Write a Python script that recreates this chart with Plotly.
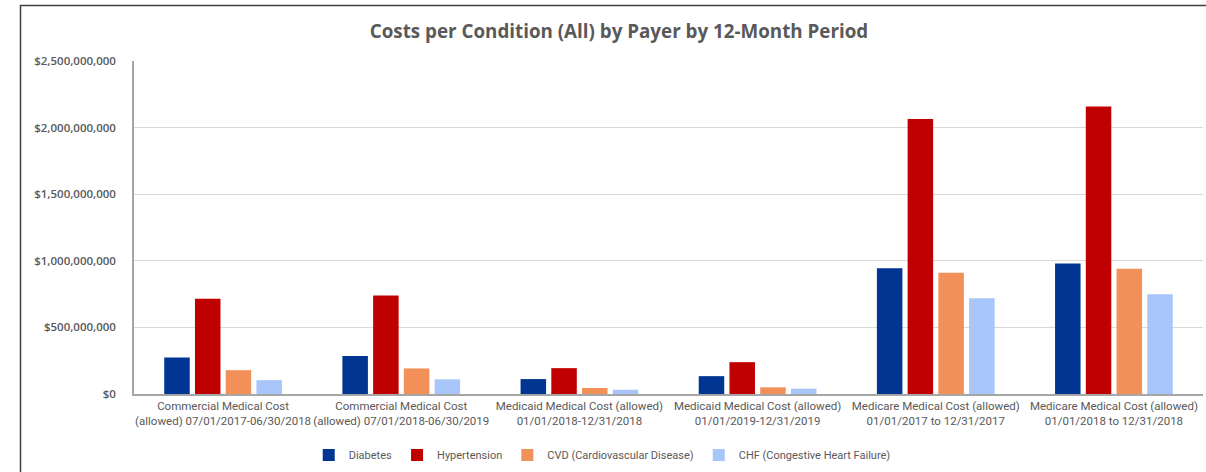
import plotly.graph_objects as go

categories = [
    "Commercial Medical Cost<br>(allowed) 07/01/2017-06/30/2018",
    "Commercial Medical Cost<br>(allowed) 07/01/2018-06/30/2019",
    "Medicaid Medical Cost (allowed)<br>01/01/2018-12/31/2018",
    "Medicaid Medical Cost (allowed)<br>01/01/2019-12/31/2019",
    "Medicare Medical Cost (allowed)<br>01/01/2017 to 12/31/2017",
    "Medicare Medical Cost (allowed)<br>01/01/2018 to 12/31/2018",
]
diabetes = [274e6, 286e6, 112e6, 134e6, 945e6, 980e6]
hypertension = [716e6, 739e6, 194e6, 239e6, 2065e6, 2159e6]
cvd = [179e6, 192e6, 45e6, 50e6, 910e6, 940e6]
chf = [104e6, 110e6, 32e6, 40e6, 719e6, 749e6]

series_names = ["Diabetes", "Hypertension", "CVD (Cardiovascular Disease)", "CHF (Congestive Heart Failure)"]
series_values = [diabetes, hypertension, cvd, chf]
colors = ["#003591", "#C00000", "#F2905A", "#A8C6FA"]

tick_vals = [0, 500e6, 1000e6, 1500e6, 2000e6, 2500e6]
tick_text = ["$0", "$500,000,000", "$1,000,000,000", "$1,500,000,000", "$2,000,000,000", "$2,500,000,000"]

font_family = "Roboto, Liberation Sans, sans-serif"

W, H = 1206, 472
L, T, R, B = 134, 61, 3, 77
PW, PH = W - L - R, H - T - B

fig = go.Figure()
for name, vals, c in zip(series_names, series_values, colors):
    fig.add_trace(go.Bar(x=categories, y=vals, name=name, marker_color=c,
                         marker_line_width=0))

fig.update_layout(
    width=W, height=H,
    margin=dict(l=L, r=R, t=T, b=B),
    paper_bgcolor="white", plot_bgcolor="white",
    barmode="group", bargap=0.31, bargroupgap=0.17,
    title=dict(text="<b>Costs per Condition (All) by Payer by 12-Month Period</b>",
               x=619/W, xanchor="center", y=1-31/H, yanchor="middle",
               font=dict(family="Open Sans, sans-serif", size=18.8, color="#595959")),
    font=dict(family=font_family, color="#595959"),
    legend=dict(orientation="h", x=0.438, xanchor="center", y=-0.18, yanchor="middle",
                font=dict(size=11, color="#595959"), itemwidth=30,
                traceorder="normal"),
    shapes=[dict(type="rect", xref="paper", yref="paper",
                 x0=(20.5 - L) / PW, x1=1.2, y0=-0.5, y1=(H - B - 5.3) / PH,
                 line=dict(color="#404040", width=1.5), fillcolor="rgba(0,0,0,0)",
                 layer="below")],
)
fig.update_xaxes(showline=True, linecolor="#A6A6A6", linewidth=1.5,
                 tickfont=dict(size=11.5, color="#595959"), ticks="")
fig.update_yaxes(range=[0, 2500e6], tickvals=tick_vals, ticktext=tick_text,
                 showgrid=True, gridcolor="#D9D9D9", gridwidth=1,
                 showline=True, linecolor="#A6A6A6", linewidth=1.5,
                 zeroline=False, ticks="", ticklabelstandoff=14,
                 tickfont=dict(family="Open Sans, sans-serif", size=11.5, weight=600,
                               color="#595959"))

# remove the default 8px page margin so the figure fills the window exactly
fig.write_html("out.html", config={"displayModeBar": False},
               post_script="document.body.style.margin='0';document.body.style.overflow='hidden';")
